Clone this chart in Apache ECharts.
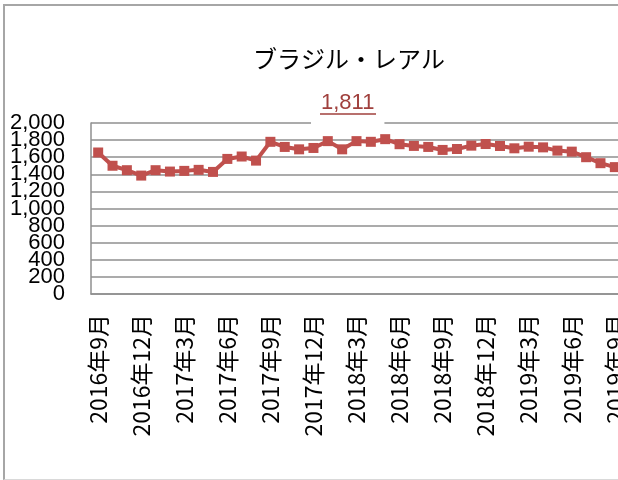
<!DOCTYPE html>
<html>
<head>
<meta charset="utf-8">
<title>ブラジル・レアル</title>
<script src="https://cdn.jsdelivr.net/npm/echarts@6/dist/echarts.min.js"></script>
<style>
    html, body {
        margin: 0;
        padding: 0;
        overflow: hidden;
        background: #fff;
    }
    #frame {
        position: absolute;
        left: 3px;
        top: 4px;
        width: 720px;
        height: 473px;
        border-left: 2px solid #a6a6a6;
        border-top: 2px solid #a6a6a6;
        border-bottom: 1px solid #d9d9d9;
    }
    #chart {
        position: absolute;
        left: 0;
        top: 0;
        width: 640px;
        height: 480px;
    }
</style>
</head>
<body>
<div id="frame"></div>
<div id="chart"></div>
<script>
var months = [
    "2016年9月", "2016年10月", "2016年11月", "2016年12月", "2017年1月", "2017年2月",
    "2017年3月", "2017年4月", "2017年5月", "2017年6月", "2017年7月", "2017年8月",
    "2017年9月", "2017年10月", "2017年11月", "2017年12月", "2018年1月", "2018年2月",
    "2018年3月", "2018年4月", "2018年5月", "2018年6月", "2018年7月", "2018年8月",
    "2018年9月", "2018年10月", "2018年11月", "2018年12月", "2019年1月", "2019年2月",
    "2019年3月", "2019年4月", "2019年5月", "2019年6月", "2019年7月", "2019年8月",
    "2019年9月"
];
var brlValues = [
    1655, 1500, 1448, 1385, 1448, 1432, 1440, 1452, 1428, 1580, 1608, 1560,
    1780, 1720, 1692, 1708, 1788, 1692, 1788, 1780, 1811, 1752, 1732, 1720,
    1685, 1696, 1735, 1754, 1731, 1704, 1723, 1715, 1677, 1665, 1600, 1530,
    1484
];
var yTicks = [0, 200, 400, 600, 800, 1000, 1200, 1400, 1600, 1800, 2000];

var titleText = "ブラジル・レアル";
var maxText = "1,811";

var lineColor = "#c0504d";
var maxColor = "#a0403d";
var gridColor = "#8f8f8f";

function fmtNum(v) {
    return String(v).replace(/\B(?=(\d{3})+(?!\d))/g, ",");
}

// labels are crowded, so they are split over two stacked axes
// (otherwise echarts drops the overlapping ones)
function yLabel(values) {
    return {
        customValues: values,
        margin: 26,
        color: '#000',
        fontFamily: 'Liberation Sans',
        fontSize: 22,
        formatter: function (v) {
            return fmtNum(v);
        }
    };
}

function initChart() {
    var chart = echarts.init(document.getElementById('chart'), null, {renderer: 'canvas'});

    var evenTicks = yTicks.filter(function (v, i) { return i % 2 == 0; });
    var oddTicks = yTicks.filter(function (v, i) { return i % 2 == 1; });

    var option = {
        animation: false,
        backgroundColor: 'transparent',
        title: [{
            text: titleText,
            left: 248,
            top: 42,
            textStyle: {
                fontFamily: 'Noto Sans CJK JP',
                fontSize: 24,
                fontWeight: 'normal',
                color: '#000'
            }
        }, {
            // max value, white box hides the top grid line
            text: maxText,
            left: 311,
            top: 90,
            padding: [2, 10, 10, 10],
            backgroundColor: '#fff',
            textStyle: {
                fontFamily: 'Liberation Sans',
                fontSize: 22,
                fontWeight: 'normal',
                color: maxColor
            }
        }],
        graphic: [{
            type: 'line',
            z: 100,
            shape: {x1: 320, y1: 114, x2: 376, y2: 114},
            style: {stroke: maxColor, lineWidth: 1.5}
        }],
        grid: {
            left: 91,
            top: 123,
            right: 18,
            bottom: 186,
            containLabel: false
        },
        xAxis: {
            type: 'category',
            data: months,
            boundaryGap: true,
            axisLine: {lineStyle: {color: gridColor, width: 1.5}},
            axisTick: {show: false},
            axisLabel: {
                interval: 2,
                rotate: 90,
                margin: 20,
                color: '#000',
                fontFamily: 'Noto Sans CJK JP',
                fontSize: 23
            }
        },
        yAxis: [{
            type: 'value',
            position: 'left',
            min: yTicks[0],
            max: yTicks[yTicks.length - 1],
            interval: yTicks[1] - yTicks[0],
            axisLine: {show: true, lineStyle: {color: gridColor, width: 1.5}},
            axisTick: {show: false},
            splitLine: {lineStyle: {color: gridColor, width: 1.5}},
            axisLabel: yLabel(evenTicks)
        }, {
            type: 'value',
            position: 'left',
            offset: 0,
            min: yTicks[0],
            max: yTicks[yTicks.length - 1],
            interval: yTicks[1] - yTicks[0],
            axisLine: {show: false},
            axisTick: {show: false},
            splitLine: {show: false},
            axisLabel: yLabel(oddTicks)
        }],
        series: [{
            name: titleText,
            type: 'line',
            yAxisIndex: 0,
            data: brlValues,
            symbol: 'rect',
            symbolSize: 10,
            showSymbol: true,
            showAllSymbol: true,
            lineStyle: {color: lineColor, width: 4},
            itemStyle: {color: lineColor}
        }]
    };

    chart.setOption(option);
    window.brlChart = chart;
}

initChart();
</script>
</body>
</html>
